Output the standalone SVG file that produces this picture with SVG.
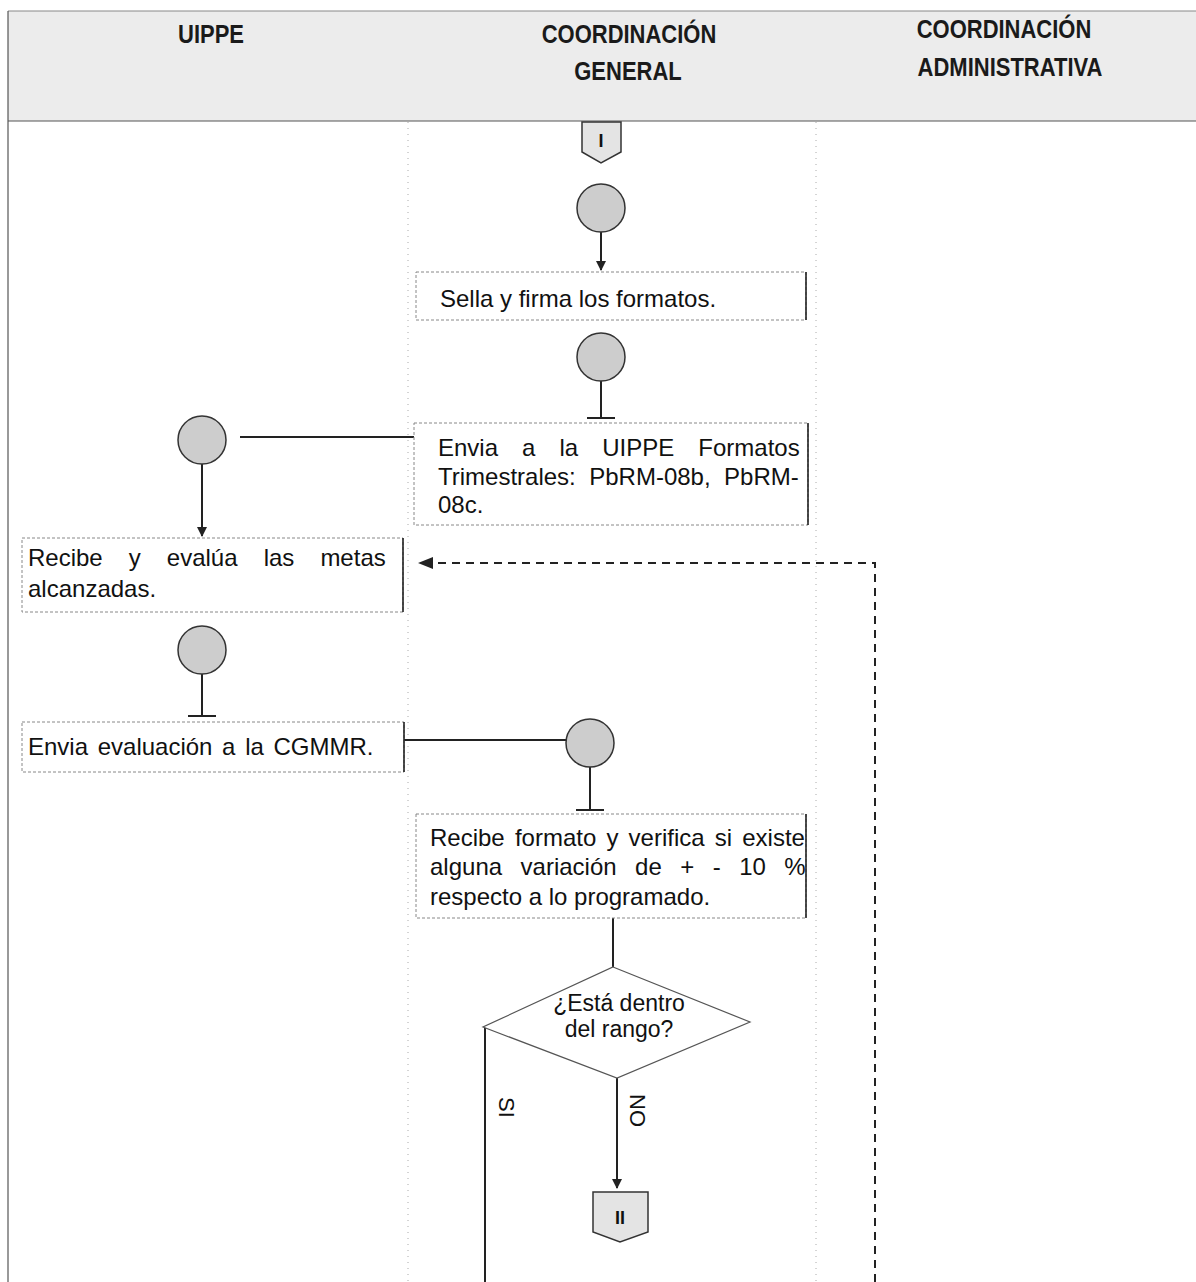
<svg xmlns="http://www.w3.org/2000/svg" width="1196" height="1282" viewBox="0 0 1196 1282">
<style>
.hdr{font-family:"Liberation Sans",Arial,sans-serif;font-weight:bold;font-size:22px;fill:#1a1a1a;text-anchor:middle}
.t{font-family:"Liberation Sans",Arial,sans-serif;font-size:24px;fill:#111}
.dt{font-family:"Liberation Sans",Arial,sans-serif;font-size:23px;fill:#111;text-anchor:middle}
.lb{font-family:"Liberation Sans",Arial,sans-serif;font-size:22px;fill:#111}
.box{fill:#fff;stroke:#888;stroke-width:1;stroke-dasharray:3 2}
.boxr{stroke:#222;stroke-width:1.6}
.circ{fill:#cdcdcd;stroke:#333;stroke-width:1.5}
.ln{stroke:#222;stroke-width:2;fill:none}
.lane{stroke:#aaa;stroke-width:1;stroke-dasharray:1 5}
.dash{stroke:#222;stroke-width:2;fill:none;stroke-dasharray:8 6}
.conn{fill:#e4e4e4;stroke:#333;stroke-width:1.5}
.ct{font-family:"Liberation Sans",Arial,sans-serif;font-weight:bold;font-size:18px;fill:#111;text-anchor:middle}
</style>
<defs>
<marker id="ah" viewBox="0 0 10 10" refX="9" refY="5" markerWidth="5" markerHeight="5" orient="auto" markerUnits="strokeWidth">
<path d="M0,0 L10,5 L0,10 z" fill="#222"/>
</marker>
</defs>
<rect x="0" y="0" width="1196" height="1282" fill="#fff"/>
<g id="header">
<rect x="8" y="11" width="1188" height="110" fill="#ececec"/>
<line x1="8" y1="11" x2="1196" y2="11" stroke="#888" stroke-width="1"/>
<line x1="8" y1="121" x2="1196" y2="121" stroke="#555" stroke-width="1"/>
<text class="hdr" transform="translate(211,43) scale(1,1.2)">UIPPE</text>
<text class="hdr" transform="translate(629,43) scale(1,1.2)">COORDINACIÓN</text>
<text class="hdr" transform="translate(628,80) scale(1,1.2)">GENERAL</text>
<text class="hdr" transform="translate(1004,38) scale(1,1.2)">COORDINACIÓN</text>
<text class="hdr" transform="translate(1010,76) scale(1,1.2)">ADMINISTRATIVA</text>
</g>
<g id="lanes">
<line x1="8" y1="11" x2="8" y2="1282" stroke="#555" stroke-width="1.2"/>
<line class="lane" x1="408" y1="122" x2="408" y2="1282"/>
<line class="lane" x1="816" y1="122" x2="816" y2="1282"/>
</g>
<g id="connectors">
<line class="ln" x1="601" y1="232" x2="601" y2="270" marker-end="url(#ah)"/>
<line class="ln" x1="601" y1="381" x2="601" y2="418"/>
<line class="ln" x1="587" y1="418" x2="615" y2="418"/>
<line class="ln" x1="240" y1="437" x2="414" y2="437" stroke-width="1.5"/>
<line class="ln" x1="202" y1="464" x2="202" y2="536" marker-end="url(#ah)"/>
<line class="ln" x1="202" y1="674" x2="202" y2="716"/>
<line class="ln" x1="188" y1="716" x2="216" y2="716"/>
<line class="ln" x1="404" y1="740" x2="566" y2="740" stroke-width="1.5"/>
<line class="ln" x1="590" y1="767" x2="590" y2="810"/>
<line class="ln" x1="576" y1="810" x2="604" y2="810"/>
<line class="ln" x1="613" y1="918" x2="613" y2="967"/>
<line class="ln" x1="485" y1="1027" x2="485" y2="1282"/>
<line class="ln" x1="617" y1="1078" x2="617" y2="1188" marker-end="url(#ah)"/>
<path class="dash" d="M875,1282 L875,563 L426,563"/>
<path d="M418,563 L433,557 L433,569 z" fill="#222"/>
<text class="lb" transform="translate(499,1097) rotate(90)">SI</text>
<text class="lb" transform="translate(630,1094) rotate(90)">NO</text>
</g>
<g id="conn-I">
<path class="conn" d="M582,122 L621,122 L621,152 L601,163 L582,152 z"/>
<text class="ct" x="601" y="147">I</text>
</g>
<g id="c1"><circle class="circ" cx="601" cy="208" r="24"/></g>
<g id="n-sella">
<rect class="box" x="416" y="272" width="390" height="48"/>
<line class="boxr" x1="806" y1="272" x2="806" y2="320"/>
<text class="t" x="440" y="307">Sella y firma los formatos.</text>
</g>
<g id="c2"><circle class="circ" cx="601" cy="357" r="24"/></g>
<g id="n-envia">
<rect class="box" x="414" y="423" width="394" height="102"/>
<line class="boxr" x1="808" y1="423" x2="808" y2="525"/>
<text class="t" x="438" y="456" word-spacing="17.4">Envia a la UIPPE Formatos</text>
<text class="t" x="438" y="485" word-spacing="6.8">Trimestrales: PbRM-08b, PbRM-</text>
<text class="t" x="438" y="513">08c.</text>
</g>
<g id="c3"><circle class="circ" cx="202" cy="440" r="24"/></g>
<g id="n-recibe">
<rect class="box" x="22" y="538" width="381" height="74"/>
<line class="boxr" x1="403" y1="538" x2="403" y2="612"/>
<text class="t" x="28" y="566" word-spacing="19.4">Recibe y evalúa las metas</text>
<text class="t" x="28" y="597">alcanzadas.</text>
</g>
<g id="c4"><circle class="circ" cx="202" cy="650" r="24"/></g>
<g id="n-envia-eval">
<rect class="box" x="22" y="722" width="382" height="50"/>
<line class="boxr" x1="404" y1="722" x2="404" y2="772"/>
<text class="t" x="28" y="755" word-spacing="3">Envia evaluación a la CGMMR.</text>
</g>
<g id="c5"><circle class="circ" cx="590" cy="743" r="24"/></g>
<g id="n-verifica">
<rect class="box" x="416" y="814" width="390" height="104"/>
<line class="boxr" x1="806" y1="814" x2="806" y2="918"/>
<text class="t" x="430" y="846" word-spacing="3.5">Recibe formato y verifica si existe</text>
<text class="t" x="430" y="875" word-spacing="11.8">alguna variación de + - 10 %</text>
<text class="t" x="430" y="905">respecto a lo programado.</text>
</g>
<g id="d-rango">
<path d="M613,967 L750,1022 L617,1078 L483,1027 z" fill="#fff" stroke="#555" stroke-width="1.2"/>
<text class="dt" x="619" y="1011">¿Está dentro</text>
<text class="dt" x="619" y="1037">del rango?</text>
</g>
<g id="conn-II">
<path class="conn" d="M593,1192 L648,1192 L648,1232 L620,1242 L593,1232 z"/>
<text class="ct" x="620" y="1224">II</text>
</g>
</svg>
